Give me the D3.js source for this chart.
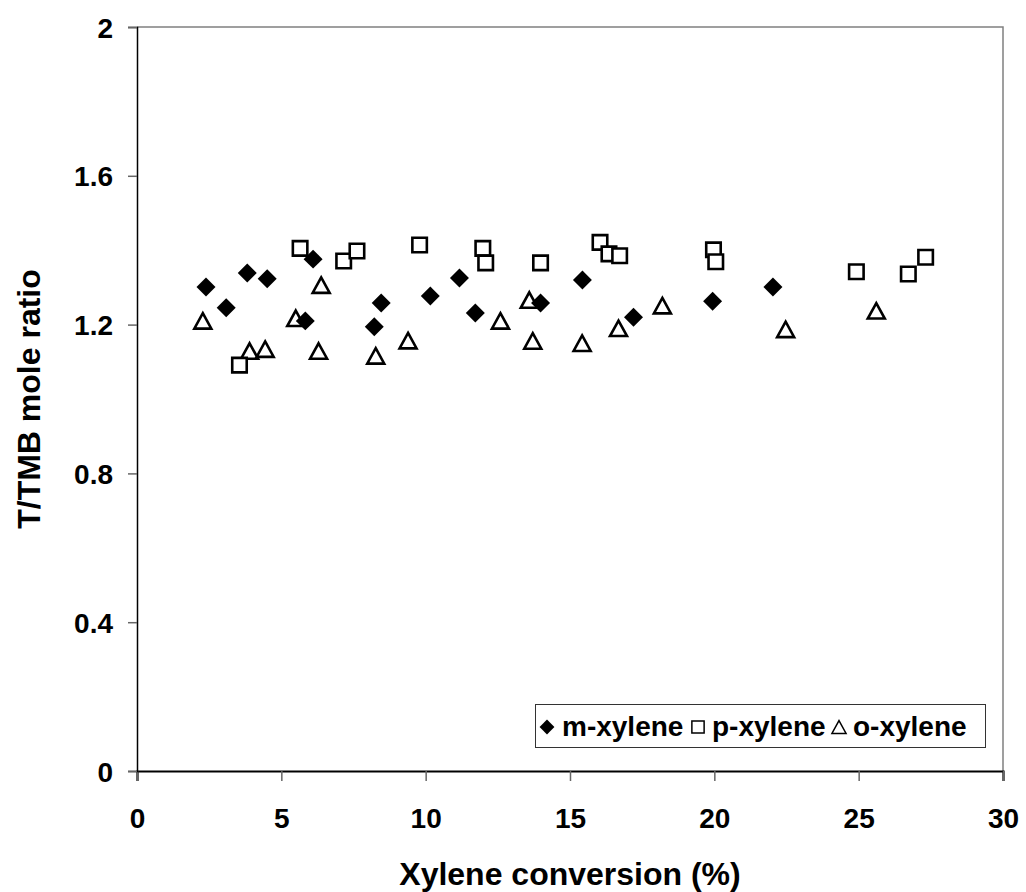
<!DOCTYPE html>
<html lang="en">
<head>
  <meta charset="UTF-8">
  <title>T/TMB mole ratio vs Xylene conversion</title>
  <script src="https://d3js.org/d3.v7.min.js"></script>
  <style>
    body {
      margin: 0;
      background: #fff;
    }
    text {
      font-family: Arial, 'Liberation Sans', sans-serif;
      font-weight: bold;
      fill: #000;
    }
  </style>
</head>
<body>
  <div id="chart"></div>
  <script>
    // m-xylene (filled diamonds)
    const mX = [2.39, 3.09, 3.82, 4.51, 5.83, 6.10, 8.22, 8.46, 10.16, 11.17, 11.72, 13.98, 15.43, 17.2, 19.94, 22.03];
    const mY = [1.301, 1.245, 1.339, 1.323, 1.210, 1.376, 1.194, 1.258, 1.277, 1.325, 1.231, 1.258, 1.320, 1.220, 1.263, 1.301];
    // p-xylene (open squares)
    const pX = [3.55, 5.65, 7.16, 7.62, 9.79, 11.98, 12.08, 13.98, 16.04, 16.35, 16.72, 19.97, 20.05, 24.92, 26.72, 27.32];
    const pY = [1.091, 1.405, 1.371, 1.398, 1.414, 1.405, 1.366, 1.366, 1.421, 1.390, 1.385, 1.401, 1.369, 1.342, 1.336, 1.381];
    // o-xylene (open triangles)
    const oX = [2.28, 3.90, 4.44, 5.50, 6.38, 6.29, 8.27, 9.39, 12.59, 13.59, 13.71, 15.42, 16.68, 18.20, 22.47, 25.61];
    const oY = [1.210, 1.129, 1.134, 1.217, 1.306, 1.129, 1.116, 1.157, 1.210, 1.266, 1.156, 1.150, 1.190, 1.251, 1.187, 1.237];

    const xTicks = [0, 5, 10, 15, 20, 25, 30];
    const yTicks = [0, 0.4, 0.8, 1.2, 1.6, 2];
    const seriesNames = ["m-xylene", "p-xylene", "o-xylene"];

    const width = 1026;
    const height = 892;
    const margin = {top: 27, right: 23, bottom: 121, left: 137};

    const svg = d3.select("#chart")
      .append("svg")
      .attr("width", width)
      .attr("height", height);

    const x = d3.scaleLinear()
      .domain([0, 30])
      .range([margin.left, width - margin.right]);

    const y = d3.scaleLinear()
      .domain([0, 2])
      .range([height - margin.bottom, margin.top]);

    // triangle centred on its bounding box, like the spreadsheet marker
    const boxTriangle = {
      draw(context, size) {
        const w = Math.sqrt(size);
        const h = w * 0.91;
        context.moveTo(0, -h / 2);
        context.lineTo(w / 2, h / 2);
        context.lineTo(-w / 2, h / 2);
        context.closePath();
      }
    };

    // plot frame: grey top and right
    svg.append("path")
      .attr("d", `M${x(0)},${y(2)}H${x(30)}V${y(0)}`)
      .attr("fill", "none")
      .attr("stroke", "#808080")
      .attr("stroke-width", 1.5);

    // x axis
    const xAxis = svg.append("g")
      .attr("transform", `translate(0,${y(0)})`)
      .call(d3.axisBottom(x).tickValues(xTicks).tickSize(10).tickFormat(d3.format("d")));
    xAxis.select(".domain").attr("stroke", "#000").attr("stroke-width", 2.2);
    xAxis.selectAll(".tick line").attr("stroke", "#666").attr("stroke-width", 1.5);
    xAxis.selectAll(".tick text")
      .attr("y", 57)
      .attr("dy", 0)
      .attr("font-size", 28)
      .attr("fill", "#000");

    // y axis
    const yAxis = svg.append("g")
      .attr("transform", `translate(${x(0)},0)`)
      .call(d3.axisLeft(y).tickValues(yTicks).tickSize(9).tickFormat(d => d === 0 || d === 2 ? d3.format("d")(d) : d3.format(".1f")(d)));
    yAxis.select(".domain").attr("stroke", "#000").attr("stroke-width", 1.5);
    yAxis.selectAll(".tick line").attr("stroke", "#666").attr("stroke-width", 1.5);
    yAxis.selectAll(".tick text")
      .attr("x", -24)
      .attr("dy", "0.36em")
      .attr("font-size", 28)
      .attr("fill", "#000");

    // axis titles
    svg.append("text")
      .attr("x", (x(0) + x(30)) / 2)
      .attr("y", 885)
      .attr("text-anchor", "middle")
      .attr("font-size", 32)
      .text("Xylene conversion (%)");

    svg.append("text")
      .attr("transform", `translate(40,${(y(0) + y(2)) / 2}) rotate(-90)`)
      .attr("text-anchor", "middle")
      .attr("font-size", 32)
      .text("T/TMB mole ratio");

    const diamond = d3.symbol().type(d3.symbolSquare);
    const square = d3.symbol().type(d3.symbolSquare);
    const tri = d3.symbol().type(boxTriangle);

    // o-xylene
    svg.append("g")
      .selectAll("path")
      .data(d3.zip(oX, oY))
      .join("path")
        .attr("transform", d => `translate(${x(d[0])},${y(d[1])})`)
        .attr("d", tri.size(289)())
        .attr("fill", "#fff")
        .attr("stroke", "#000")
        .attr("stroke-width", 2.6);

    // p-xylene
    svg.append("g")
      .selectAll("path")
      .data(d3.zip(pX, pY))
      .join("path")
        .attr("transform", d => `translate(${x(d[0])},${y(d[1])})`)
        .attr("d", square.size(210)())
        .attr("fill", "#fff")
        .attr("stroke", "#000")
        .attr("stroke-width", 2.6);

    // m-xylene
    svg.append("g")
      .selectAll("path")
      .data(d3.zip(mX, mY))
      .join("path")
        .attr("transform", d => `translate(${x(d[0])},${y(d[1])}) rotate(45)`)
        .attr("d", diamond.size(180)())
        .attr("fill", "#000");

    // legend
    const legend = svg.append("g");
    legend.append("rect")
      .attr("x", 535.5)
      .attr("y", 704.5)
      .attr("width", 450)
      .attr("height", 43)
      .attr("fill", "#fff")
      .attr("stroke", "#333")
      .attr("stroke-width", 1);

    const legendX = [547, 698, 839];
    const legendTextX = [562, 712, 853];
    const legendY = 727;

    legend.append("path")
      .attr("transform", `translate(${legendX[0]},${legendY}) rotate(45)`)
      .attr("d", diamond.size(110)())
      .attr("fill", "#000");
    legend.append("path")
      .attr("transform", `translate(${legendX[1]},${legendY})`)
      .attr("d", square.size(150)())
      .attr("fill", "#fff")
      .attr("stroke", "#000")
      .attr("stroke-width", 1.5);
    legend.append("path")
      .attr("transform", `translate(${legendX[2]},${legendY})`)
      .attr("d", tri.size(200)())
      .attr("fill", "#fff")
      .attr("stroke", "#000")
      .attr("stroke-width", 1.5);

    seriesNames.forEach((name, i) => {
      legend.append("text")
        .attr("x", legendTextX[i])
        .attr("y", 736)
        .attr("font-size", 28)
        .text(name);
    });
  </script>
</body>
</html>
